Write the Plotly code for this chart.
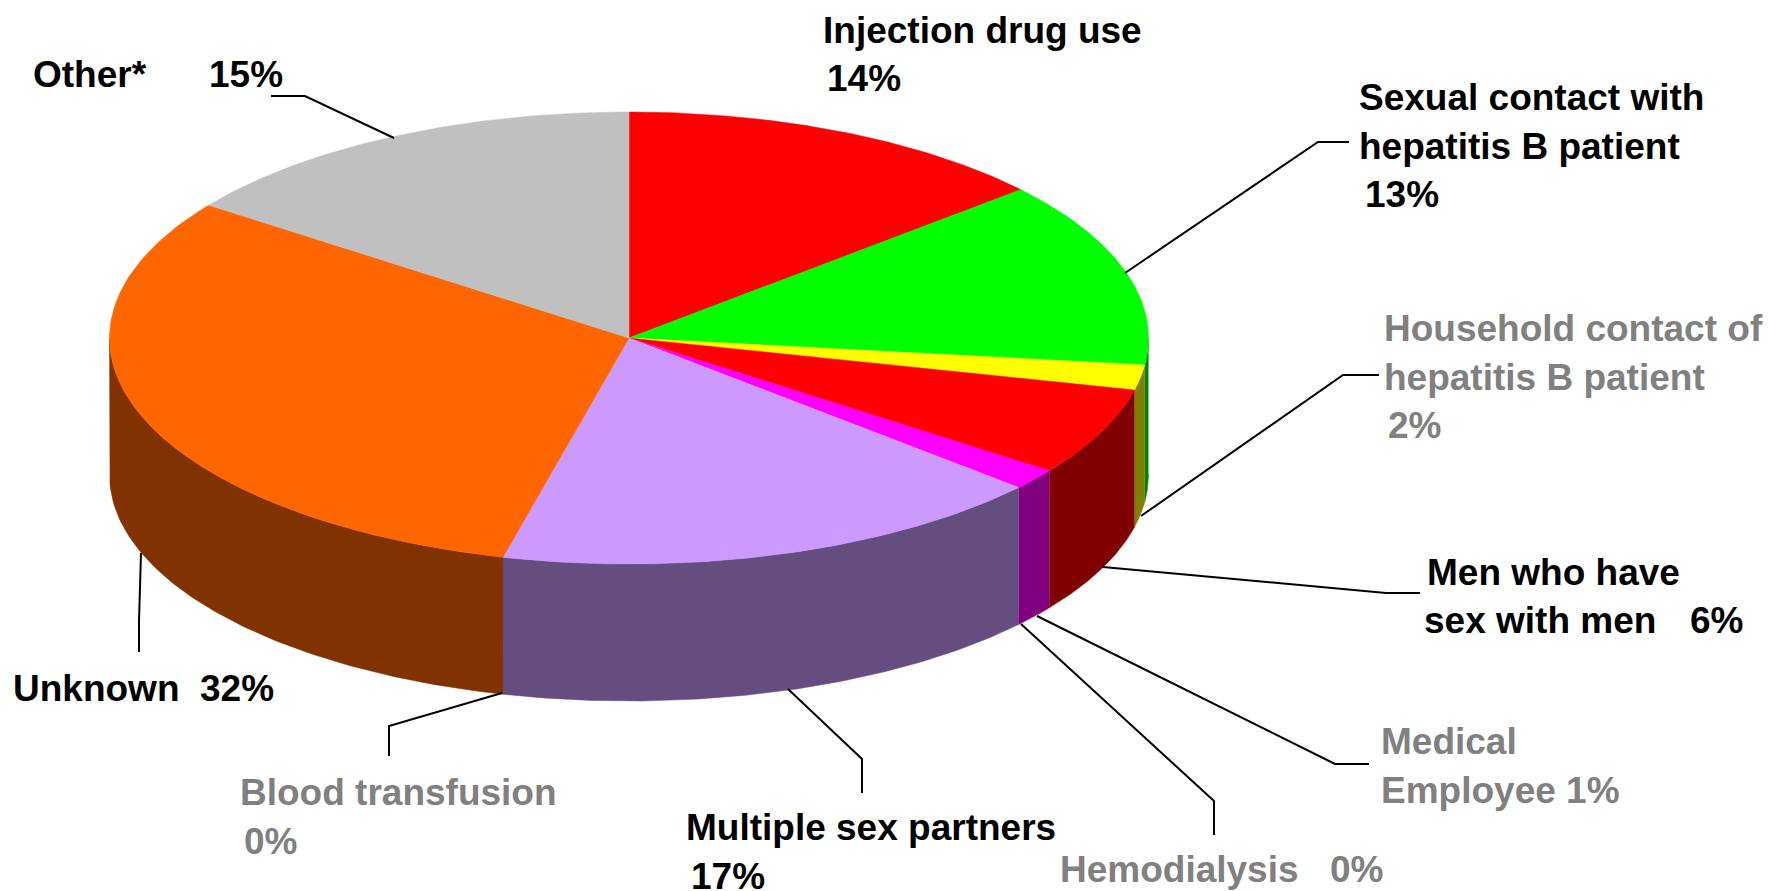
import numpy as np
import plotly.graph_objects as go

# Slices, clockwise from 12 o'clock
categories = ["Injection drug use", "Sexual contact with hepatitis B patient",
              "Household contact of hepatitis B patient", "Men who have sex with men",
              "Medical Employee", "Hemodialysis", "Multiple sex partners",
              "Blood transfusion", "Unknown", "Other*"]
shares = [13.6, 13.3, 1.8, 6.3, 1.5, 0.0, 17.4, 0.0, 31.1, 15.0]
top_colors = ["#FF0000", "#00FF00", "#FFFF00", "#FF0000", "#FF00FF",
              "#808080", "#CC99FF", "#808080", "#FF6600", "#C0C0C0"]
wall_colors = ["#800000", "#008000", "#808000", "#800000", "#800080",
               "#404040", "#664D80", "#404040", "#803300", "#606060"]

# Label text lines: text, left x, middle y, colour
BLACK, GREY = "#000000", "#808080"
label_text = ["Injection drug use", "14%", "Other*", "15%", "Sexual contact with",
              "hepatitis B patient", "13%", "Household contact of", "hepatitis B patient",
              "2%", "Men who have", "sex with men", "6%", "Medical", "Employee 1%",
              "Hemodialysis", "0%", "Multiple sex partners", "17%", "Blood transfusion",
              "0%", "Unknown", "32%"]
label_x = [822, 826, 32, 208, 1358, 1358, 1364, 1383, 1383, 1387, 1426, 1423, 1689,
           1380, 1380, 1059, 1329, 685, 690, 239, 243, 12, 199]
label_y = [30, 78, 74, 74, 97, 146, 194, 328, 377, 425, 572, 620, 620,
           741, 790, 869, 869, 827, 876, 792, 841, 688, 688]
label_col = [BLACK, BLACK, BLACK, BLACK, BLACK, BLACK, BLACK, GREY, GREY, GREY,
             BLACK, BLACK, BLACK, GREY, GREY, GREY, GREY, BLACK, BLACK, GREY, GREY,
             BLACK, BLACK]

# Leader lines
leader_x = [[271, 305, 394], [1349, 1318, 1125], [1379, 1343, 1141], [1420, 1386, 1103],
            [1369, 1335, 1037], [1214, 1214, 1021], [862, 862, 788], [389, 389, 502],
            [139, 139, 141]]
leader_y = [[96, 96, 138], [142, 142, 273], [375, 375, 516], [593, 593, 567],
            [764, 764, 616], [835, 801, 624], [793, 759, 689], [756, 726, 693],
            [652, 621, 553]]

CX, CY, RX, RY, DEPTH = 629, 338, 519.5, 226, 137

fig = go.Figure()
edges = 2 * np.pi * np.concatenate([[0], np.cumsum(shares)]) / sum(shares)


def ex(t):
    return CX + RX * np.sin(t)


def ey(t):
    return CY - RY * np.cos(t)


# walls: only the front half of the disc (t between 90 and 270 degrees)
for i in range(len(shares)):
    a, b = max(edges[i], np.pi / 2), min(edges[i + 1], 3 * np.pi / 2)
    if b <= a:
        continue
    t = np.linspace(a, b, 90)
    x = np.concatenate([ex(t), ex(t[::-1])])
    y = np.concatenate([ey(t), ey(t[::-1]) + DEPTH])
    fig.add_trace(go.Scatter(x=x, y=y, fill="toself", fillcolor=wall_colors[i], mode="lines",
                             line=dict(color=wall_colors[i], width=0.5),
                             hoverinfo="skip", showlegend=False))

# top face
for i in range(len(shares)):
    if shares[i] <= 0:
        continue
    t = np.linspace(edges[i], edges[i + 1], 120)
    x = np.concatenate([[CX], ex(t), [CX]])
    y = np.concatenate([[CY], ey(t), [CY]])
    fig.add_trace(go.Scatter(x=x, y=y, fill="toself", fillcolor=top_colors[i], mode="lines",
                             line=dict(color=top_colors[i], width=0.5), name=categories[i],
                             hoverinfo="name", showlegend=False))

for lx, ly in zip(leader_x, leader_y):
    fig.add_trace(go.Scatter(x=lx, y=ly, mode="lines", line=dict(color="#000000", width=2),
                             hoverinfo="skip", showlegend=False))

for s, x, y, c in zip(label_text, label_x, label_y, label_col):
    fig.add_annotation(x=x, y=y, text=s, xanchor="left", yanchor="middle", showarrow=False,
                       xref="x", yref="y", borderpad=0,
                       font=dict(family="Liberation Sans", size=37, color=c, weight="bold"))

fig.update_layout(width=1770, height=891, margin=dict(l=0, r=0, t=0, b=0),
                  paper_bgcolor="#FFFFFF", plot_bgcolor="#FFFFFF",
                  xaxis=dict(range=[0, 1770], visible=False, fixedrange=True),
                  yaxis=dict(range=[891, 0], visible=False, fixedrange=True))
fig.write_html("out.html", config=dict(displayModeBar=False),
               post_script="document.body.style.margin='0';")
